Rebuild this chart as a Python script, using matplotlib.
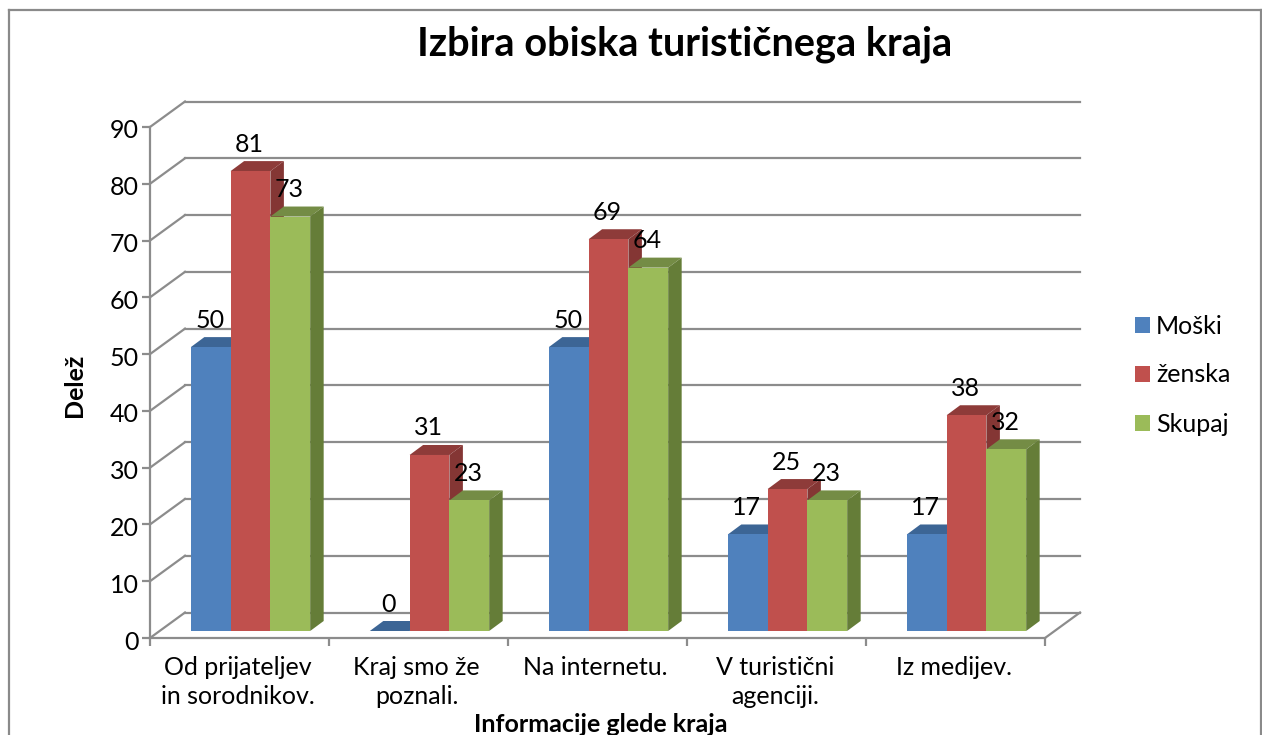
import matplotlib
matplotlib.use('Agg')
import matplotlib.pyplot as plt
from matplotlib.lines import Line2D
from matplotlib.patches import Polygon
from matplotlib.transforms import Affine2D
import numpy as np

plt.rcParams['font.family'] = ['Lato', 'DejaVu Sans']

categories = ['Od prijateljev\nin sorodnikov.', 'Kraj smo že\npoznali.', 'Na internetu.',
              'V turistični\nagenciji.', 'Iz medijev.']
series_names = ['Moški', 'ženska', 'Skupaj']
moski = [50, 0, 50, 17, 17]
zenska = [81, 31, 69, 25, 38]
skupaj = [73, 23, 64, 23, 32]
y_ticks = [0, 10, 20, 30, 40, 50, 60, 70, 80, 90]

face_colors = ['#4F81BD', '#C0504D', '#9BBB59']
top_colors = ['#3C6595', '#8E3B39', '#748C45']
side_colors = ['#375D8A', '#843634', '#657D38']
GRID = '#8C8C8C'
FS = 18

W, H = 1262, 735
fig = plt.figure(figsize=(W / 100, H / 100), dpi=100)
ax = fig.add_axes([150 / W, 1 - 638 / H, 895 / W, 511 / H])
ax.set_xlim(0, 5)
ax.set_ylim(0, 90)
ax.patch.set_alpha(0)

# pixel sizes in data units, the fake 3d depth is worked out with these
px = 5 / 895
py = 90 / 511
wall_dx, wall_dy = 35 * px, 25.5 * py
bar_dx, bar_dy = 11 * px, 7 * py
side_dx, side_dy = 13.5 * px, 10 * py
bar_w = 1 / 4.5

# back wall and floor
for v in y_ticks:
    ax.plot([0, wall_dx], [v, v + wall_dy], color=GRID, lw=1.6, clip_on=False, zorder=1)
    ax.plot([wall_dx, 5 + wall_dx], [v + wall_dy, v + wall_dy], color=GRID, lw=1.6, clip_on=False, zorder=1)
ax.plot([5, 5 + wall_dx], [0, wall_dy], color=GRID, lw=1.6, clip_on=False, zorder=1)

# bars
handles = []
for s, vals in enumerate([moski, zenska, skupaj]):
    xs = np.arange(5) + (1 - 3 * bar_w) / 2 + s * bar_w + bar_dx
    z = 3 + s
    for x, v in zip(xs, vals):
        top = v + bar_dy
        ax.add_patch(Polygon([(x, top), (x + bar_w, top), (x + bar_w + side_dx, top + side_dy), (x + side_dx, top + side_dy)],
                             closed=True, fc=top_colors[s], ec='none', clip_on=False, zorder=z))
        ax.add_patch(Polygon([(x + bar_w, bar_dy), (x + bar_w + side_dx, bar_dy + side_dy),
                              (x + bar_w + side_dx, top + side_dy), (x + bar_w, top)],
                             closed=True, fc=side_colors[s], ec='none', clip_on=False, zorder=z))
        ax.text(x + bar_w / 2 - 1 * px, top + 27 * py, str(v), ha='center', va='center', fontsize=FS, color='black', zorder=10)
    bars = ax.bar(xs, vals, bar_w, bottom=bar_dy, align='edge', color=face_colors[s], label=series_names[s],
                  clip_on=False, zorder=z)
    handles.append(bars)

ax.set_xticks(range(6))
ax.set_xticklabels([])
ax.set_xticks(np.arange(5) + 0.49, labels=categories, minor=True)
ax.set_yticks(y_ticks)
ax.tick_params(axis='both', which='major', length=6, width=1.6, color=GRID, labelsize=FS)
ax.tick_params(axis='x', which='minor', length=0, labelsize=FS, pad=13)
ax.tick_params(axis='y', pad=2)
for lab in ax.get_xticklabels(minor=True):
    lab.set_linespacing(1.3)
# y labels sit a bit lower in the original
for lab in ax.get_yticklabels():
    lab.set_transform(lab.get_transform() + Affine2D().translate(0, -2))
for name in ['top', 'right']:
    ax.spines[name].set_visible(False)
for name in ['left', 'bottom']:
    ax.spines[name].set_color(GRID)
    ax.spines[name].set_linewidth(1.6)
    ax.spines[name].set_zorder(2)

fig.text(685 / W, 1 - 44 / H, 'Izbira obiska turističnega kraja', ha='center', va='center',
         fontsize=28.6, fontweight='bold')
fig.text(75 / W, 1 - 385 / H, 'Delež', rotation=90, ha='center', va='center', fontsize=18, fontweight='bold')
fig.text(601 / W, 1 - 724 / H, 'Informacije glede kraja', ha='center', va='center', fontsize=18, fontweight='bold')

leg = fig.legend(handles=handles, loc='center left', bbox_to_anchor=(1135 / W, 1 - 375 / H), frameon=False,
                 fontsize=FS, handlelength=0.6, handleheight=0.6, handletextpad=0.25,
                 labelspacing=1.04, borderpad=0, borderaxespad=0)

# chart border, bottom edge is cut off in the original
for xd, yd in [([8.5, 8.5], [735, 9.5]), ([8.5, 1261], [9.5, 9.5]), ([1261, 1261], [9.5, 735])]:
    fig.add_artist(Line2D([x / W for x in xd], [1 - y / H for y in yd], color='#8A8A8A', lw=1.6))

fig.savefig('out.png', dpi=100)
